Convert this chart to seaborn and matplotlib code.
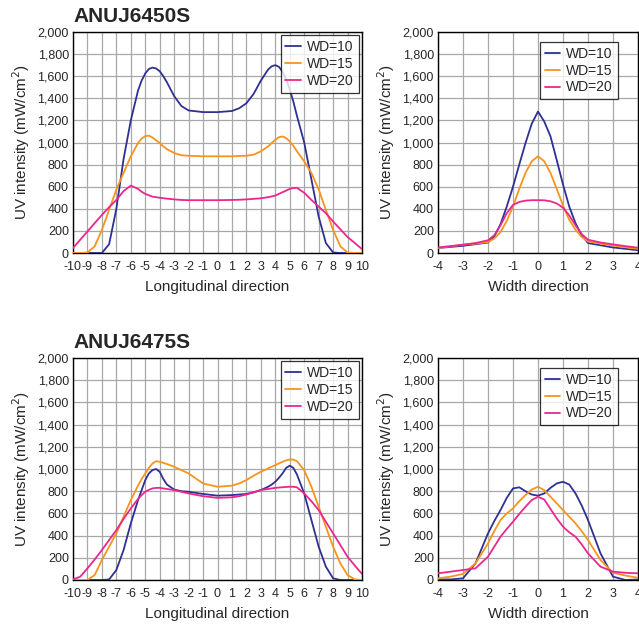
import numpy as np
import pandas as pd
import seaborn as sns
from matplotlib import pyplot as plt
from matplotlib.ticker import FuncFormatter

# Data
long_x = [-10, -9.5, -9, -8.5, -8, -7.5, -7, -6.5, -6, -5.5, -5.25, -5, -4.75, -4.5, -4.25, -4, -3.75, -3.5,
          -3, -2.5, -2, -1, 0, 1, 1.5, 2, 2.5, 3, 3.5, 3.75, 4, 4.25, 4.5, 4.75, 5, 5.25, 5.5,
          6, 6.5, 7, 7.5, 8, 8.5, 9, 9.5, 10]

a50_long_wd10 = [0, 0, 0, 0, 0, 80, 400, 850, 1200, 1470, 1560, 1625, 1665, 1678, 1670, 1645, 1600, 1545,
                 1420, 1330, 1290, 1275, 1275, 1285, 1310, 1355, 1440, 1560, 1660, 1690, 1700, 1685, 1640, 1570, 1480, 1370, 1240,
                 1000, 665, 330, 90, 5, 0, 0, 0, 0]
a50_long_wd15 = [0, 0, 5, 60, 210, 390, 575, 725, 875, 995, 1035, 1058, 1062, 1045, 1020, 995, 965, 940,
                 905, 885, 880, 875, 875, 875, 878, 880, 890, 920, 965, 995, 1025, 1048, 1055, 1040, 1010, 970, 920,
                 830, 725, 575, 390, 210, 60, 5, 0, 0]
a50_long_wd20 = [45, 120, 195, 270, 345, 415, 480, 560, 610, 580, 555, 535, 522, 510, 505, 500, 496, 492,
                 485, 480, 478, 478, 478, 480, 482, 485, 490, 495, 505, 512, 520, 535, 550, 565, 580, 588, 590,
                 545, 480, 420, 360, 285, 215, 145, 90, 35]

a75_long_wd10 = [0, 0, 0, 0, 0, 5, 90, 270, 510, 720, 810, 900, 960, 990, 1000, 975, 910, 860,
                 815, 800, 795, 775, 760, 765, 770, 775, 790, 810, 840, 860, 885, 920, 960, 1010, 1030, 1010, 950,
                 780, 540, 300, 120, 15, 0, 0, 0, 0]
a75_long_wd15 = [0, 0, 0, 45, 180, 300, 420, 570, 720, 850, 910, 960, 1010, 1050, 1070, 1065, 1055, 1045,
                 1020, 990, 960, 870, 840, 850, 870, 900, 940, 975, 1005, 1020, 1035, 1050, 1065, 1078, 1085, 1085, 1070,
                 990, 840, 660, 480, 300, 150, 45, 5, 0]
a75_long_wd20 = [5, 30, 105, 185, 270, 360, 450, 550, 645, 730, 765, 795, 812, 825, 830, 830, 825, 820,
                 810, 795, 780, 755, 740, 745, 755, 770, 790, 810, 820, 825, 830, 833, 836, 838, 840, 840, 835,
                 780, 710, 630, 525, 420, 315, 210, 130, 55]

width_x = [-4, -3.5, -3, -2.5, -2, -1.75, -1.5, -1.25, -1, -0.75, -0.5, -0.25, 0,
           0.25, 0.5, 0.75, 1, 1.25, 1.5, 1.75, 2, 2.5, 3, 3.5, 4]

a50_width_wd10 = [45, 55, 65, 80, 95, 150, 260, 420, 600, 800, 995, 1170, 1280,
                  1190, 1055, 840, 620, 420, 270, 160, 90, 70, 50, 38, 25]
a50_width_wd15 = [45, 60, 75, 85, 100, 130, 190, 290, 420, 580, 725, 830, 875,
                  830, 725, 580, 430, 300, 210, 145, 105, 85, 68, 52, 38]
a50_width_wd20 = [50, 62, 75, 90, 115, 160, 250, 360, 435, 462, 474, 478, 478,
                  477, 468, 448, 410, 340, 250, 170, 120, 95, 78, 62, 48]

a75_width_wd10 = [5, 5, 15, 150, 420, 530, 630, 740, 825, 835, 800, 770, 760,
                  780, 830, 870, 885, 860, 780, 670, 540, 240, 30, 0, 5]
a75_width_wd15 = [15, 30, 55, 150, 330, 440, 540, 600, 645, 710, 765, 815, 840,
                  810, 750, 690, 630, 570, 510, 440, 360, 180, 65, 40, 20]
a75_width_wd20 = [60, 75, 90, 105, 210, 300, 390, 460, 525, 595, 660, 720, 750,
                  725, 640, 555, 480, 430, 390, 320, 240, 120, 75, 65, 60]

series = ["WD=10", "WD=15", "WD=20"]
colors = ["#2e3192", "#f7941d", "#ec268f"]


def make_df(x, values):
    rows = []
    for name, vals in zip(series, values):
        for xi, yi in zip(x, vals):
            rows.append({"x": xi, "y": yi, "WD": name})
    return pd.DataFrame(rows)


sns.set_style("white")
plt.rcParams["font.family"] = ["Liberation Sans", "DejaVu Sans"]
plt.rcParams["axes.unicode_minus"] = False

fig = plt.figure(figsize=(6.39, 6.29), dpi=100)
W, H = 639, 629


def add_axes(l, t, r, b):
    return fig.add_axes([l / W, 1 - b / H, (r - l) / W, (b - t) / H])


panels = [
    (add_axes(73, 32, 362, 253), long_x, [a50_long_wd10, a50_long_wd15, a50_long_wd20], "long", "ANUJ6450S"),
    (add_axes(438, 32, 638, 253), width_x, [a50_width_wd10, a50_width_wd15, a50_width_wd20], "width", None),
    (add_axes(73, 358, 362, 580), long_x, [a75_long_wd10, a75_long_wd15, a75_long_wd20], "long", "ANUJ6475S"),
    (add_axes(438, 358, 638, 580), width_x, [a75_width_wd10, a75_width_wd15, a75_width_wd20], "width", None),
]

for ax, x, vals, kind, title in panels:
    df = make_df(x, vals)
    sns.lineplot(data=df, x="x", y="y", hue="WD", palette=colors, linewidth=1.3, ax=ax, zorder=3)
    ax.set_ylim(0, 2000)
    ax.set_yticks(np.arange(0, 2001, 200))
    ax.yaxis.set_major_formatter(FuncFormatter(lambda v, p: f"{int(v):,}"))
    leg_kw = dict(fontsize=10, handlelength=1.1, handletextpad=0.45, labelspacing=0.2, borderpad=0.35)
    if kind == "long":
        ax.set_xlim(-10, 10)
        ax.set_xticks(np.arange(-10, 11, 1))
        ax.set_xlabel("Longitudinal direction", fontsize=11, labelpad=5)
        leg = ax.legend(loc="upper right", borderaxespad=0.25, **leg_kw)
    else:
        ax.set_xlim(-4, 4)
        ax.set_xticks(np.arange(-4, 5, 1))
        ax.set_xlabel("Width direction", fontsize=11, labelpad=5)
        leg = ax.legend(loc="upper right", bbox_to_anchor=(0.9, 0.955), borderaxespad=0, **leg_kw)
    leg.get_frame().set_edgecolor("black")
    leg.get_frame().set_linewidth(0.9)
    leg.get_frame().set_boxstyle("square", pad=0)
    ax.set_ylabel("UV intensity (mW/cm$^2$)", fontsize=11)
    ax.grid(True, color="#a8a8a8", linewidth=0.9)
    ax.set_axisbelow(True)
    ax.tick_params(axis="y", labelsize=9, length=0, pad=3)
    ax.tick_params(axis="x", labelsize=9, length=0, pad=6)
    for s in ax.spines.values():
        s.set_color("black")
        s.set_linewidth(1.0)
    if title:
        ax.set_title(title, loc="left", fontsize=15, fontweight="bold", pad=7)

plt.savefig("out.png", dpi=100)
